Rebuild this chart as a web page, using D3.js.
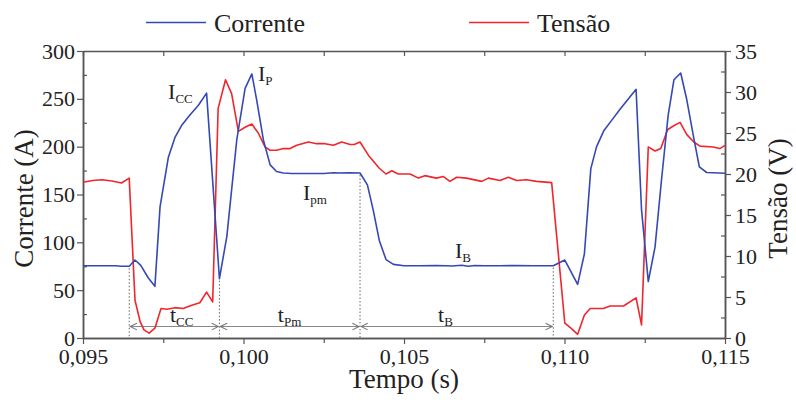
<!DOCTYPE html>
<html><head><meta charset="utf-8">
<script src="https://cdn.jsdelivr.net/npm/d3@7/dist/d3.min.js"></script>
<style>
body{margin:0;background:#fff;}
text{font-family:"Liberation Serif","Times New Roman",serif;fill:#222;}
</style></head>
<body><svg id="c" width="796" height="402"></svg>
<script>
// ---- data ----
const currentT = [0.0950,0.0955,0.0960,0.0962,0.09644,0.09662,0.09680,0.09703,0.09724,0.09740,0.09766,0.09787,0.09807,0.09833,0.09859,0.09885,0.09925,0.09948,0.09979,0.10005,0.10026,0.10041,0.10062,0.10083,0.10103,0.10124,0.1015,0.1020,0.1025,0.1028,0.1030,0.1033,0.10363,0.10386,0.10404,0.10423,0.10444,0.10467,0.1050,0.1055,0.1060,0.1063,0.1065,0.1068,0.1070,0.1072,0.1075,0.1080,0.1085,0.1090,0.10965,0.11001,0.11041,0.11062,0.11082,0.11100,0.11123,0.11148,0.11173,0.11223,0.11240,0.11261,0.11282,0.11303,0.11323,0.11341,0.11362,0.11381,0.11401,0.11420,0.11443,0.1150];
const currentA = [75.5,75.5,75.5,75,75,81.5,76,63,54,137,189,210,222,233,243,256,62,106,207,261,276,249,207,181,174,172.5,172,172,172,172.8,172.5,172.8,172.5,160,134,102,82,77,75.5,75.5,75.8,75.5,75.2,76,75,75.8,75.5,75.5,75.8,75.5,75.6,81.5,56,88,177,200,217,228,239,260,134,59,95,168,233,270,277,249,212,179,173,172.2];
const voltageT = [0.0950,0.0953,0.0956,0.0959,0.0962,0.09644,0.09662,0.09678,0.0969,0.09706,0.09724,0.09743,0.09761,0.09787,0.09812,0.09839,0.09864,0.09885,0.09904,0.09921,0.09944,0.09963,0.09984,0.10005,0.10026,0.10046,0.10067,0.10083,0.10103,0.10124,0.10145,0.10166,0.10202,0.10228,0.10254,0.1028,0.10306,0.10332,0.10345,0.10363,0.10389,0.10423,0.10444,0.10462,0.10482,0.10519,0.10545,0.10565,0.10601,0.10622,0.10643,0.10664,0.10695,0.10742,0.10763,0.10799,0.10825,0.10851,0.10882,0.10913,0.10960,0.11001,0.11020,0.11041,0.11062,0.11080,0.11121,0.11142,0.11184,0.11223,0.11240,0.11261,0.11282,0.11300,0.11321,0.11339,0.1136,0.11381,0.11403,0.11422,0.11463,0.11484,0.1150];
const voltageV = [19.0,19.2,19.3,19.15,18.9,19.5,4.6,2.0,1.0,0.6,1.2,3.6,3.5,3.7,3.6,4.0,4.3,5.6,4.4,28.0,31.5,29.8,25.2,25.7,26.1,25.0,23.3,22.9,22.9,23.1,23.1,23.5,23.9,23.7,23.7,23.5,23.9,23.6,23.6,23.9,22.3,20.7,20.0,20.4,20.0,20.0,19.5,19.8,19.5,19.7,19.1,19.6,19.5,19.1,19.5,19.2,19.6,19.2,19.3,19.1,18.95,1.8,1.2,0.45,2.8,3.6,3.6,3.9,3.9,4.9,1.6,23.3,22.8,23.1,25.4,25.85,26.3,24.8,23.9,23.4,23.3,23.1,23.5];
const xTicks = [0.095,0.100,0.105,0.110,0.115];
const yLeftTicks = [0,50,100,150,200,250,300];
const yRightTicks = [0,5,10,15,20,25,30,35];
const markerTimes = [0.09644,0.09925,0.10363,0.10965];
const seriesNames = ["Corrente","Tensão"];

// ---- layout ----
const svg = d3.select("#c");
const L=83,R=725,T=51,B=338;
const blue="#3548b4", red="#f0262c", axisCol="#555";
const x = d3.scaleLinear().domain([0.095,0.115]).range([L,R]);
const yI = d3.scaleLinear().domain([0,300]).range([B,T]);
const yV = d3.scaleLinear().domain([0,35]).range([B,T]);
const fmt = d => d3.format(".3f")(d).replace(".",",");

function styleAxis(g){
  g.selectAll("path.domain").attr("stroke",axisCol).attr("stroke-width",1.5);
  g.selectAll(".tick line").attr("stroke",axisCol).attr("stroke-width",1.2);
  g.selectAll("text").attr("font-family","Liberation Serif").attr("font-size",22).attr("fill","#222");
}
const minorX = d3.range(0.0975,0.115,0.005);
const minorI = d3.range(25,300,50);
const minorV = d3.range(2.5,35,5);

// bottom
svg.append("g").attr("transform",`translate(0,${B})`)
  .call(d3.axisBottom(x).tickValues(xTicks).tickFormat(fmt).tickSize(6).tickSizeOuter(0).tickPadding(4)).call(styleAxis);
svg.append("g").attr("transform",`translate(0,${B})`)
  .call(d3.axisBottom(x).tickValues(minorX).tickFormat("").tickSize(5).tickSizeOuter(0)).call(styleAxis);
// top
svg.append("g").attr("transform",`translate(0,${T})`)
  .call(d3.axisBottom(x).tickValues(xTicks.concat(minorX)).tickFormat("").tickSize(5).tickSizeOuter(0)).call(styleAxis);
// left
svg.append("g").attr("transform",`translate(${L},0)`)
  .call(d3.axisLeft(yI).tickValues(yLeftTicks).tickSize(6).tickSizeOuter(0).tickPadding(2)).call(styleAxis);
svg.append("g").attr("transform",`translate(${L},0)`)
  .call(d3.axisRight(yI).tickValues(minorI).tickFormat("").tickSize(4).tickSizeOuter(0)).call(styleAxis);
// right
svg.append("g").attr("transform",`translate(${R},0)`)
  .call(d3.axisRight(yV).tickValues(yRightTicks).tickSize(6).tickSizeOuter(0).tickPadding(4)).call(styleAxis);
svg.append("g").attr("transform",`translate(${R},0)`)
  .call(d3.axisLeft(yV).tickValues(minorV).tickFormat("").tickSize(4).tickSizeOuter(0)).call(styleAxis);

// annotations: dotted verticals
const iAt = t => { const i=d3.bisectLeft(currentT,t); if(i<=0) return currentA[0]; const t0=currentT[i-1],t1=currentT[i]; return currentA[i-1]+(currentA[i]-currentA[i-1])*(t-t0)/(t1-t0); };
markerTimes.forEach(t=>{
  svg.append("line").attr("x1",x(t)).attr("x2",x(t)).attr("y1",yI(iAt(t))+2).attr("y2",B)
    .attr("stroke","#666").attr("stroke-width",1).attr("stroke-dasharray","1.5,2");
});
// arrows
const defs=svg.append("defs");
defs.append("marker").attr("id","ah").attr("viewBox","0 0 10 10").attr("refX",9).attr("refY",5)
  .attr("markerWidth",7).attr("markerHeight",7).attr("orient","auto-start-reverse")
  .append("path").attr("d","M1,1 L9,5 L1,9").attr("fill","none").attr("stroke","#777").attr("stroke-width",1.3);
for(let k=0;k<markerTimes.length-1;k++){
  svg.append("line").attr("x1",x(markerTimes[k])+1).attr("x2",x(markerTimes[k+1])-1)
    .attr("y1",yI(12)).attr("y2",yI(12)).attr("stroke","#888").attr("stroke-width",1.2)
    .attr("marker-start","url(#ah)").attr("marker-end","url(#ah)");
}

// lines
const lineI = d3.line().x((d,i)=>x(currentT[i])).y(d=>yI(d));
const lineV = d3.line().x((d,i)=>x(voltageT[i])).y(d=>yV(d));
svg.append("path").datum(voltageV).attr("d",lineV).attr("fill","none").attr("stroke",red).attr("stroke-width",1.6).attr("stroke-linejoin","round");
svg.append("path").datum(currentA).attr("d",lineI).attr("fill","none").attr("stroke",blue).attr("stroke-width",1.6).attr("stroke-linejoin","round");

// labels with subscripts
function lab(t,val,main,sub){
  const tx=svg.append("text").attr("x",x(t)).attr("y",yI(val)).attr("font-size",22).attr("fill","#333");
  tx.append("tspan").text(main);
  tx.append("tspan").attr("font-size",13).attr("dy",4).text(sub);
}
lab(0.09765,250,"I","CC");
lab(0.10045,268.5,"I","P");
lab(0.101853,144,"I","pm");
lab(0.10659,84,"I","B");
lab(0.09771,17,"t","CC");
lab(0.10107,17,"t","Pm");
lab(0.10606,17,"t","B");

// axis titles
svg.append("text").attr("x",(L+R)/2).attr("y",388).attr("text-anchor","middle").attr("font-size",27).text("Tempo (s)");
svg.append("text").attr("transform",`translate(33,${(T+B)/2+4}) rotate(-90)`).attr("text-anchor","middle").attr("font-size",27).text("Corrente (A)");
svg.append("text").attr("transform",`translate(787,${(T+B)/2+4}) rotate(-90)`).attr("text-anchor","middle").attr("font-size",27).text("Tensão (V)");

// legend
const leg=[{name:seriesNames[0],c:blue,x:146},{name:seriesNames[1],c:red,x:469}];
leg.forEach(d=>{
  svg.append("line").attr("x1",d.x).attr("x2",d.x+60).attr("y1",22.5).attr("y2",22.5).attr("stroke",d.c).attr("stroke-width",1.7);
  svg.append("text").attr("x",d.x+68).attr("y",32).attr("font-size",26).text(d.name);
});
</script></body></html>
